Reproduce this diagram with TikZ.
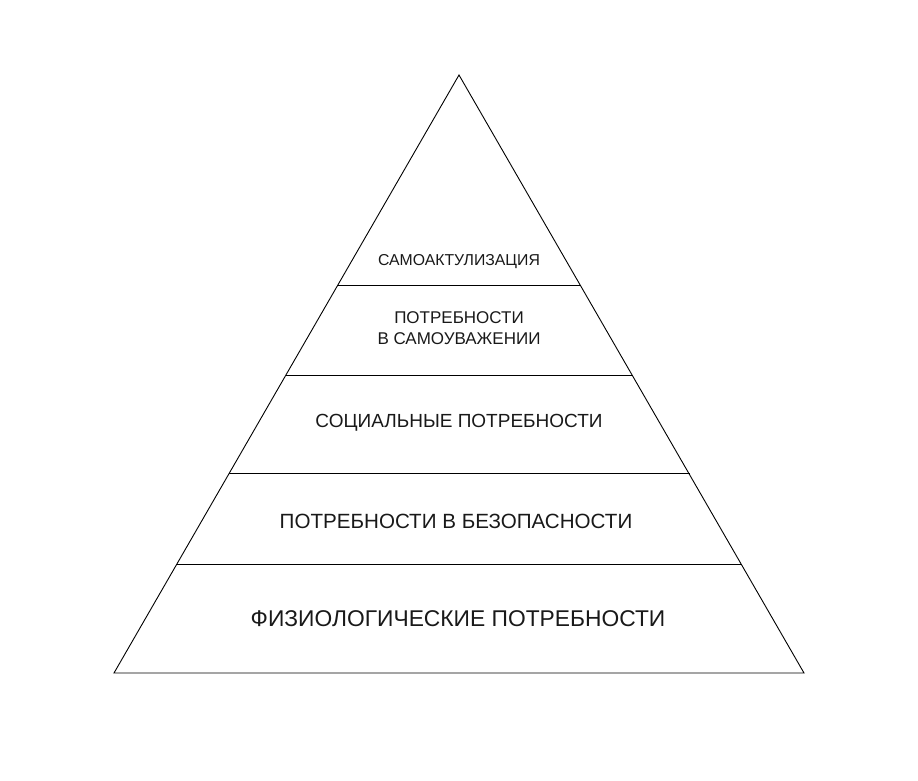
\documentclass[tikz,border=0pt]{standalone}
\usepackage{fontspec}
\setmainfont{Liberation Sans}
\begin{document}
\begin{tikzpicture}[x=1pt,y=-1pt,line width=0.9pt,
  lbl/.style={align=center,inner sep=0pt,text=black!90}]
\useasboundingbox (0,0) rectangle (918,780);
\coordinate (apex) at (459,75);
\coordinate (bl) at (114,673);
\coordinate (br) at (804,673);
\draw (apex) -- (bl) -- (br) -- cycle;
\coordinate (l1) at (338,285); \coordinate (r1) at (580,285);
\coordinate (l2) at (286,375); \coordinate (r2) at (633,375);
\coordinate (l3) at (229,473); \coordinate (r3) at (690,473);
\coordinate (l4) at (177,564); \coordinate (r4) at (742,564);
\draw (l1) -- (r1);
\draw (l2) -- (r2);
\draw (l3) -- (r3);
\draw (l4) -- (r4);
\node[lbl,font=\fontsize{15.8}{18}\selectfont] (t1) at (459,262) {САМОАКТУЛИЗАЦИЯ};
\node[lbl,font=\fontsize{17}{21}\selectfont] (t2) at (459,328) {ПОТРЕБНОСТИ\\В САМОУВАЖЕНИИ};
\node[lbl,font=\fontsize{19}{22}\selectfont] (t3) at (459,423) {СОЦИАЛЬНЫЕ ПОТРЕБНОСТИ};
\node[lbl,font=\fontsize{20.6}{23}\selectfont] (t4) at (456,521) {ПОТРЕБНОСТИ В БЕЗОПАСНОСТИ};
\node[lbl,font=\fontsize{22.8}{26}\selectfont] (t5) at (458,619) {ФИЗИОЛОГИЧЕСКИЕ ПОТРЕБНОСТИ};
\end{tikzpicture}
\end{document}
